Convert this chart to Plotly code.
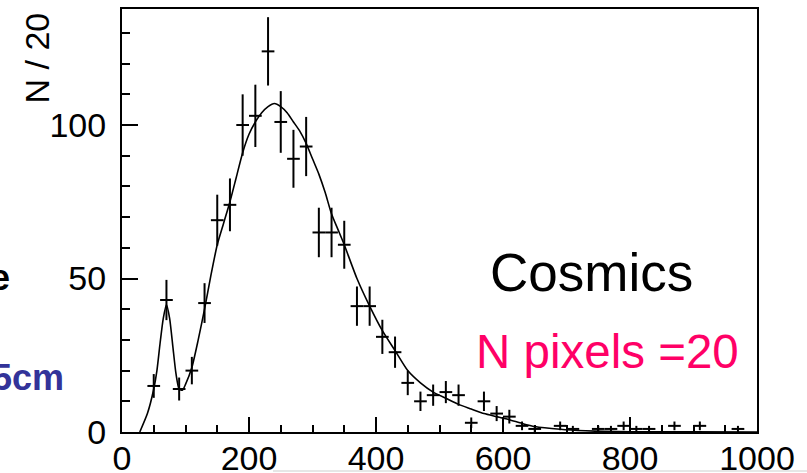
import numpy as np
import plotly.graph_objects as go

# Histogram data (bin width 20, bin centres)
bin_centers = [50, 70, 90, 110, 130, 150, 170, 190, 210, 230, 250, 270, 290, 310, 330, 350,
               370, 390, 410, 430, 450, 470, 490, 510, 530, 550, 570, 590, 610, 630, 650,
               690, 710, 750, 770, 790, 810, 830, 870, 910, 970]
counts = [15, 43, 14, 20, 42, 69, 74, 100, 103, 124, 101, 89, 93, 65, 65, 61,
          41, 41, 31, 26, 16, 10, 12, 13, 12, 3, 10, 6, 5, 2, 1,
          2, 1, 1, 1, 2, 1, 1, 2, 2, 1]
half_bin = 10

# Fit curve
fit_x = [28, 40, 50, 55, 60, 65, 70, 75, 80, 85, 90, 95, 100, 110, 120, 130, 140, 150, 160, 170,
         180, 190, 200, 210, 220, 230, 240, 250, 260, 270, 280, 290, 300, 310, 320, 330,
         340, 350, 370, 390, 410, 430, 450, 470, 490, 510, 530, 550, 570, 590, 610, 630,
         650, 690, 730, 760, 800, 900, 1000]
fit_y = [0, 6, 14, 20, 29, 37, 41.5, 37, 28, 19, 14, 13.6, 15.5, 21, 30, 40, 51, 61, 68, 75,
         83, 91, 97, 101, 104, 106, 107, 106, 104, 101, 98, 94, 89, 84, 78, 71,
         66, 61, 50, 41, 33, 26.5, 20, 16, 13, 11, 9, 7.5, 6, 5, 4, 2.8,
         1.8, 0.9, 0.4, 0.2, 0.1, 0.05, 0.02]

x_tick_vals = [0, 200, 400, 600, 800, 1000]
y_tick_vals = [0, 50, 100]

errors = np.sqrt(np.array(counts, dtype=float))

fig = go.Figure()
fig.add_trace(go.Scatter(
    x=fit_x, y=fit_y, mode="lines",
    line=dict(color="black", width=1.6, shape="spline", smoothing=0.6),
    hoverinfo="skip", showlegend=False))
fig.add_trace(go.Scatter(
    x=bin_centers, y=counts, mode="markers",
    marker=dict(size=1, color="black"),
    error_y=dict(type="data", array=errors, color="black", thickness=2, width=0),
    error_x=dict(type="constant", value=half_bin, color="black", thickness=2, width=0),
    showlegend=False))

W, H = 807, 473
L, R, T, B = 122, 757, 9, 432
def px(p):
    return (p - L) / (R - L)
def py(q):
    return (B - q) / (B - T)

font_main = "Liberation Sans, Arial, sans-serif"

fig.update_layout(
    width=W, height=H,
    margin=dict(l=L, r=W - R, t=T, b=H - B, pad=0, autoexpand=False),
    paper_bgcolor="white", plot_bgcolor="white",
    font=dict(family=font_main, color="black", size=34),
    xaxis=dict(range=[0, 1000], tickvals=x_tick_vals, ticktext=[str(v) for v in x_tick_vals],
               ticks="inside", ticklen=15, tickwidth=2, tickcolor="black",
               minor=dict(dtick=50, ticks="inside", ticklen=7, tickwidth=2, tickcolor="black"),
               showline=True, linewidth=2, linecolor="black", mirror=True, automargin=False,
               showgrid=False, zeroline=False, tickfont=dict(size=34), ticklabelstandoff=-5),
    yaxis=dict(range=[0, 137.8], tickvals=y_tick_vals, ticktext=[str(v) for v in y_tick_vals],
               ticks="inside", ticklen=16, tickwidth=2, tickcolor="black",
               minor=dict(dtick=10, ticks="inside", ticklen=8, tickwidth=2, tickcolor="black"),
               showline=True, linewidth=2, linecolor="black", mirror=True, automargin=False,
               showgrid=False, zeroline=False, tickfont=dict(size=34), ticklabelstandoff=7),
)

annos = [
    dict(text="N / 20", x=px(36), y=py(11), xanchor="center", yanchor="top", textangle=-90,
         font=dict(size=34, color="black")),
    dict(text="Cosmics", x=px(591), y=py(272), xanchor="center", yanchor="middle",
         font=dict(size=53, color="black")),
    dict(text="N pixels =20", x=px(607), y=py(351), xanchor="center", yanchor="middle",
         font=dict(size=47.5, color="rgb(255,0,102)")),
    dict(text="<b>e</b>", x=px(12), y=py(278), xanchor="right", yanchor="middle",
         font=dict(size=36, color="black")),
    dict(text="<b>5cm</b>", x=px(66), y=py(377), xanchor="right", yanchor="middle",
         font=dict(size=36, color="rgb(51,51,153)")),
]
for a in annos:
    a.update(xref="paper", yref="paper", showarrow=False)
fig.update_layout(annotations=annos)

fig.add_shape(type="line", xref="paper", yref="paper",
              x0=px(273), x1=px(807), y0=py(471), y1=py(471),
              line=dict(color="rgb(205,205,205)", width=1))

fig.write_html("out.html", config={"displayModeBar": False},
               post_script="document.body.style.margin='0px';")
